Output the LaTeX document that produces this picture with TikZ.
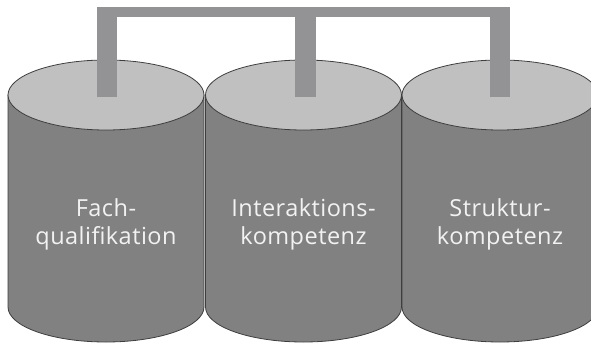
\documentclass[tikz,border=0pt]{standalone}
\usepackage{fontspec}
\setmainfont{Open Sans}
\newfontfamily\etikett[LetterSpace=2]{Open Sans}
\usepackage{xcolor}

\definecolor{mantelgrau}{HTML}{818182}
\definecolor{deckelgrau}{HTML}{C0C0C1}
\definecolor{randgrau}{HTML}{3E3E3E}
\definecolor{steggrau}{HTML}{939395}
\definecolor{schrift}{HTML}{F2F2F2}

\begin{document}
\begin{tikzpicture}[
                x=1pt, y=-1pt,
                mantel/.style={fill=mantelgrau, draw=randgrau, line width=0.8pt},
                deckel/.style={fill=deckelgrau, draw=randgrau, line width=0.8pt},
                steg/.style={draw=steggrau, line width=20.5pt},
                querbalken/.style={draw=steggrau, line width=10pt},
                every node/.style={text=schrift, align=center,
                  font=\etikett\fontsize{23.5}{28}\selectfont},
              ]
              \useasboundingbox (0,0) rectangle (591,345);
              % drei Zylinder
              \foreach \x/\s/\name/\txt in {106/107/fach/{Fach-\\qualifikation},
                                            303.5/305.5/inter/{Interaktions-\\kompetenz},
                                            500/500/struk/{Struktur-\\kompetenz}} {
                \draw[mantel] (\x-98,95) -- (\x-98,307)
                  arc[start angle=180, end angle=0, x radius=98, y radius=35]
                  -- (\x+98,95) -- cycle;
                \draw[deckel] (\x,95) ellipse[x radius=98, y radius=35];
                \node (\name) at (\x,224) {\txt};
                \coordinate (\name-deckel) at (\s,97);
              }
              % Verbindung oben
              \coordinate (links) at (97,12);
              \coordinate (rechts) at (510,12);
              \draw[querbalken] (links) -- (rechts);
              \foreach \name in {fach, inter, struk}
                \draw[steg] (\name-deckel) -- (\name-deckel |- links);
            \end{tikzpicture}
\end{document}
